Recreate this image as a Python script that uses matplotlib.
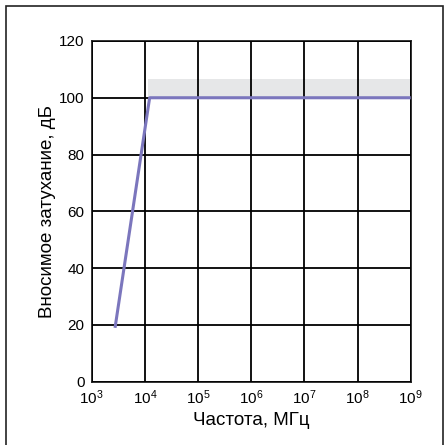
import matplotlib.pyplot as plt
from matplotlib.patches import Rectangle

plt.rcParams['font.family'] = ['Liberation Sans', 'DejaVu Sans']
plt.rcParams['mathtext.default'] = 'regular'

# values
FREQ_MHZ = [2750, 12300, 1e9]
ATTENUATION_DB = [19, 100, 100]

BAND_FREQ = [11700, 1e9]
BAND_DB = [100, 106.5]

X_TICKS = [1e3, 1e4, 1e5, 1e6, 1e7, 1e8, 1e9]
X_TICK_LABELS = [f'$10^{{{p}}}$' for p in range(3, 10)]
Y_TICKS = [0, 20, 40, 60, 80, 100, 120]

LINE_COLOUR = '#7b76bd'
BAND_COLOUR = '#e6e7e8'


def main() -> None:
    fig = plt.figure(figsize=(4.45, 4.45), dpi=100)
    ax = fig.add_axes([0.206, 0.142, 0.717, 0.766])

    ax.fill_between(BAND_FREQ, BAND_DB[0], BAND_DB[1], color=BAND_COLOUR,
                    linewidth=0, zorder=1)
    ax.plot(FREQ_MHZ, ATTENUATION_DB, color=LINE_COLOUR, linewidth=2.2,
            zorder=3, solid_capstyle='butt')

    ax.set_xscale('log')
    ax.set_xlim(1e3, 1e9)
    ax.set_ylim(0, 120)
    ax.set_xticks(X_TICKS)
    ax.set_xticklabels(X_TICK_LABELS, fontsize=12)
    ax.set_yticks(Y_TICKS)
    ax.minorticks_off()
    ax.grid(True, color='black', linewidth=1.3, zorder=2)
    ax.set_axisbelow(False)
    ax.tick_params(length=0, labelsize=11, pad=5)
    for spine in ax.spines.values():
        spine.set_linewidth(1.3)
        spine.set_color('#222222')

    ax.set_xlabel('Частота, МГц', fontsize=13.5, labelpad=3)
    ax.set_ylabel('Вносимое затухание, дБ', fontsize=13.5, labelpad=2)

    # outer frame, open at the bottom like the source image
    fig.patches.append(Rectangle((6 / 445, -0.05), 437 / 445, 1.05 - 6 / 445,
                                 transform=fig.transFigure, fill=False,
                                 edgecolor='#222222', linewidth=1.2))

    fig.savefig('out.png', dpi=100)


if __name__ == '__main__':
    main()
